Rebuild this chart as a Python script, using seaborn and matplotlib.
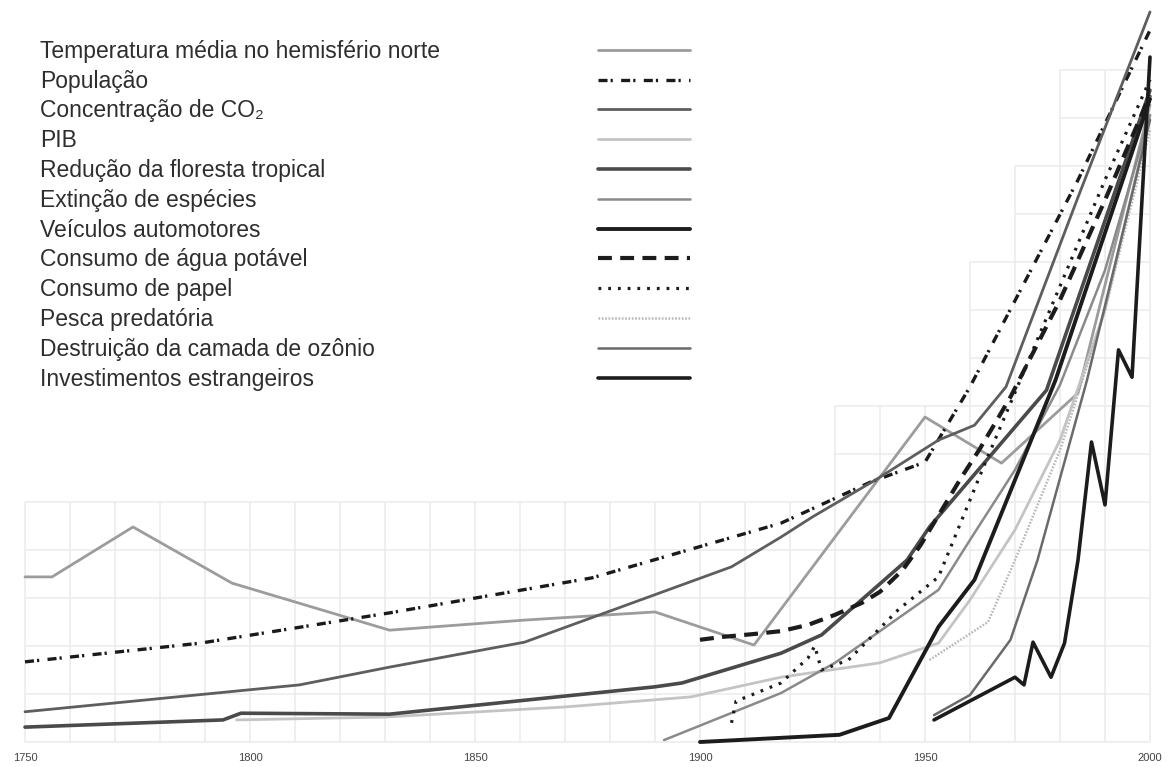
import seaborn as sns
import matplotlib.pyplot as plt
from matplotlib.lines import Line2D

# valores (unidade = uma linha da grade de fundo)
anos_temp = [1750, 1756, 1774, 1796, 1831, 1861, 1890, 1912, 1950, 1967, 1984, 2000]
temp = [3.44, 3.44, 4.48, 3.31, 2.33, 2.54, 2.71, 2.02, 6.77, 5.81, 7.27, 13.27]

anos_pop = [1750, 1789, 1831, 1876, 1918, 1938, 1950, 1960, 1984, 2000]
pop = [1.67, 2.06, 2.69, 3.42, 4.56, 5.42, 5.83, 7.40, 11.71, 14.83]

anos_co2 = [1750, 1811, 1831, 1861, 1907, 1918, 1925, 1939, 1953, 1961, 1968, 1984, 2000]
co2 = [0.63, 1.19, 1.56, 2.08, 3.65, 4.27, 4.69, 5.46, 6.29, 6.60, 7.40, 11.35, 15.21]

anos_pib = [1797, 1830, 1870, 1898, 1918, 1940, 1953, 1960, 1970, 1980, 1990, 2000]
pib = [0.46, 0.52, 0.73, 0.94, 1.35, 1.65, 2.06, 2.96, 4.42, 6.29, 9.00, 13.06]

anos_flor = [1750, 1794, 1798, 1831, 1890, 1896, 1918, 1927, 1946, 1951, 1977, 2000]
flor = [0.31, 0.46, 0.60, 0.58, 1.15, 1.23, 1.85, 2.23, 3.79, 4.48, 7.33, 13.58]

anos_ext = [1892, 1918, 1930, 1953, 1960, 1970, 1980, 1990, 2000]
ext = [0.04, 1.02, 1.65, 3.17, 4.21, 5.67, 7.44, 9.83, 13.06]

anos_veic = [1900, 1931, 1942, 1953, 1961, 1979, 2000]
veic = [0.0, 0.15, 0.50, 2.40, 3.38, 7.54, 13.40]

anos_agua = [1900, 1905, 1912, 1918, 1924, 1930, 1936, 1940, 1945, 1949, 1958, 1962, 1966, 1969, 1980, 1990, 2000]
agua = [2.13, 2.19, 2.25, 2.31, 2.44, 2.65, 2.90, 3.13, 3.58, 4.10, 5.50, 6.08, 6.71, 7.19, 9.21, 11.29, 13.48]

anos_papel = [1907, 1908, 1918, 1924, 1925.5, 1927, 1933, 1944, 1953, 1963, 1974, 1990, 2000]
papel = [0.40, 0.85, 1.23, 1.75, 2.00, 1.50, 1.71, 2.75, 3.44, 5.73, 8.17, 11.71, 13.80]

anos_pesca = [1951, 1964, 1970, 1980, 1990, 2000]
pesca = [1.71, 2.50, 3.79, 6.08, 9.00, 12.75]

anos_ozonio = [1952, 1960, 1969, 1975, 1986, 2000]
ozonio = [0.56, 0.98, 2.13, 3.79, 7.54, 12.96]

anos_inv = [1952, 1970, 1972, 1974, 1978, 1981, 1984, 1987, 1990, 1993, 1996, 2000]
inv = [0.46, 1.35, 1.19, 2.08, 1.35, 2.06, 3.79, 6.25, 4.94, 8.17, 7.60, 14.27]

rotulos = [
    "Temperatura média no hemisfério norte",
    "População",
    "Concentração de CO₂",
    "PIB",
    "Redução da floresta tropical",
    "Extinção de espécies",
    "Veículos automotores",
    "Consumo de água potável",
    "Consumo de papel",
    "Pesca predatória",
    "Destruição da camada de ozônio",
    "Investimentos estrangeiros",
]

anos_ticks = [1750, 1800, 1850, 1900, 1950, 2000]

sns.set_style("white")
plt.rcParams['font.family'] = ['Liberation Sans', 'DejaVu Sans']
plt.rcParams['lines.scale_dashes'] = False

fig = plt.figure(figsize=(11.69, 7.67), dpi=100)
ax = fig.add_axes([0.01369, 0.0232, 0.97776, 0.9731])

# grade em degraus
cor_grade = "#ececec"
faixas = [(1750, 5), (1930, 7), (1960, 10), (1970, 12), (1980, 14)]
for r in range(0, 15):
    x0 = min(x for x, t in faixas if t >= r)
    ax.hlines(r, x0, 2000, color=cor_grade, lw=1.2, zorder=0)
for x in range(1750, 2001, 10):
    topo = max(t for x0, t in faixas if x >= x0)
    ax.vlines(x, 0, topo, color=cor_grade, lw=1.2, zorder=0)

series = [
    (anos_temp, temp, "#9c9c9c", 2.0, "-"),
    (anos_pop, pop, "#1a1a1a", 2.4, (0, (6.5, 2.2, 1.6, 6.0))),
    (anos_co2, co2, "#5e5e5e", 2.0, "-"),
    (anos_pib, pib, "#c4c4c4", 2.0, "-"),
    (anos_flor, flor, "#4a4a4a", 2.6, "-"),
    (anos_ext, ext, "#8a8a8a", 1.8, "-"),
    (anos_veic, veic, "#1c1c1c", 2.8, "-"),
    (anos_agua, agua, "#1c1c1c", 3.0, (0, (10, 6))),
    (anos_papel, papel, "#1c1c1c", 2.3, (0, (2.0, 5.0))),
    (anos_pesca, pesca, "#b8b8b8", 1.8, (0, (1.2, 1.2))),
    (anos_ozonio, ozonio, "#6a6a6a", 1.8, "-"),
    (anos_inv, inv, "#1c1c1c", 2.6, "-"),
]

linhas = []
for anos, vals, cor, lw, ls in series:
    sns.lineplot(x=anos, y=vals, color=cor, linewidth=lw, linestyle=ls, ax=ax, zorder=2)
    linhas.append(ax.lines[-1])

ax.set_xlim(1748, 2002)
ax.set_ylim(-0.15, 15.4)
ax.set_xticks(anos_ticks)
ax.set_xticklabels([str(a) for a in anos_ticks])
ax.set_yticks([])
ax.tick_params(axis="x", length=0, pad=3, labelsize=8, labelcolor="#444444")
ax.set_xlabel("")
ax.set_ylabel("")
for s in ax.spines.values():
    s.set_visible(False)

# legenda: textos a esquerda, linhas alinhadas a direita
fs = 16.5
vazios = [Line2D([], [], lw=0) for _ in rotulos]
leg1 = fig.legend(vazios, rotulos, loc="upper left", bbox_to_anchor=(0.0342, 0.9481),
                  frameon=False, fontsize=fs, handlelength=0, handletextpad=0,
                  borderpad=0, borderaxespad=0, labelspacing=0.297, labelcolor="#2e2e2e")
leg2 = fig.legend(linhas, rotulos, loc="upper left", bbox_to_anchor=(0.5115, 0.9481),
                  frameon=False, fontsize=fs, handlelength=4.0, handletextpad=0,
                  borderpad=0, borderaxespad=0, labelspacing=0.297, labelcolor="none")

fig.savefig("out.png", dpi=100)
